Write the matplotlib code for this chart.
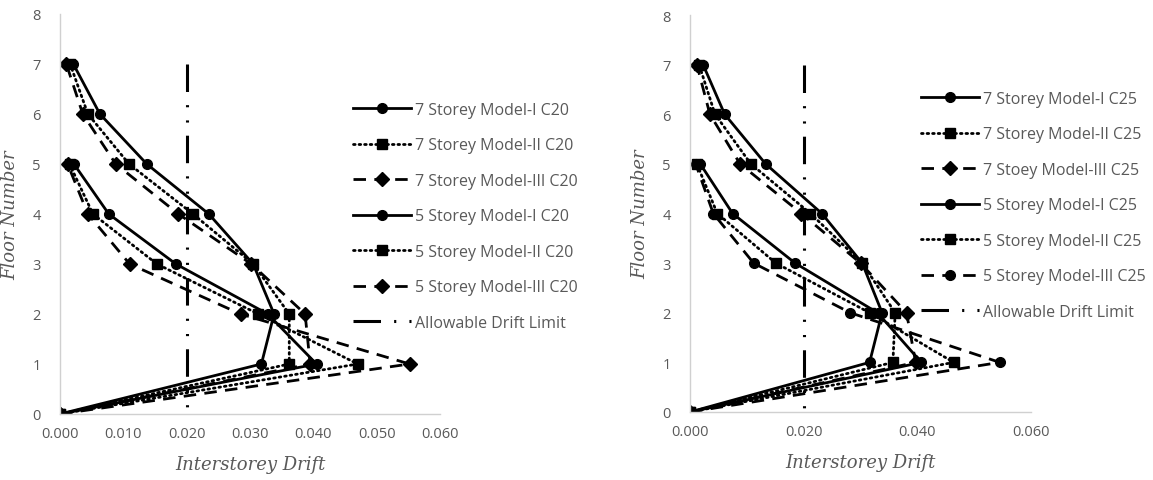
import matplotlib.pyplot as plt
from matplotlib.ticker import FormatStrFormatter

# floors
floors7 = [0, 1, 2, 3, 4, 5, 6, 7]
floors5 = [0, 1, 2, 3, 4, 5]

# C20 interstorey drift (left chart)
s7_m1_c20 = [0, 0.0318, 0.0338, 0.0305, 0.0235, 0.0137, 0.0063, 0.0021]
s7_m2_c20 = [0, 0.0362, 0.0362, 0.0305, 0.0210, 0.0109, 0.0044, 0.0016]
s7_m3_c20 = [0, 0.0395, 0.0387, 0.0302, 0.0187, 0.0088, 0.0036, 0.0010]
s5_m1_c20 = [0, 0.0405, 0.0328, 0.0183, 0.0077, 0.0022]
s5_m2_c20 = [0, 0.0470, 0.0313, 0.0153, 0.0052, 0.0015]
s5_m3_c20 = [0, 0.0552, 0.0285, 0.0110, 0.0044, 0.0012]

# C25 interstorey drift (right chart)
s7_m1_c25 = [0, 0.0316, 0.0338, 0.0303, 0.0232, 0.0133, 0.0061, 0.0023]
s7_m2_c25 = [0, 0.0357, 0.0361, 0.0303, 0.0212, 0.0107, 0.0044, 0.0016]
s7_m3_c25 = [0, 0.0397, 0.0381, 0.0300, 0.0196, 0.0088, 0.0035, 0.0012]
s5_m1_c25 = [0, 0.0407, 0.0330, 0.0185, 0.0075, 0.0018]
s5_m2_c25 = [0, 0.0464, 0.0316, 0.0151, 0.0048, 0.0012]
s5_m3_c25 = [0, 0.0545, 0.0282, 0.0112, 0.0041, 0.0010]

# allowable drift limit
limit_x = [0.02, 0.02]
limit_y = [7, 0]

labels_c20 = ['7 Storey Model-I C20', '7 Storey Model-II C20', '7 Storey Model-III C20',
              '5 Storey Model-I C20', '5 Storey Model-II C20', '5 Storey Model-III C20',
              'Allowable Drift Limit']
labels_c25 = ['7 Storey Model-I C25', '7 Storey Model-II C25', '7 Stoey Model-III C25',
              '5 Storey Model-I C25', '5 Storey Model-II C25', '5 Storey Model-III C25',
              'Allowable Drift Limit']

grey = '#595959'
plt.rcParams['font.family'] = ['Open Sans', 'DejaVu Sans']

solid = '-'
dotted = (0, (0.6, 1.4))
dashed = (0, (4.5, 3))
dashdotdot = (0, (9, 4.3, 0.7, 4.3, 0.7, 4.3))

fig = plt.figure(figsize=(11.53, 4.81), dpi=100)
ax1 = fig.add_axes([60 / 1153, 66 / 481, 380 / 1153, 400 / 481])
ax2 = fig.add_axes([690 / 1153, 68 / 481, 341 / 1153, 397 / 481])


def draw(ax, data, markers, labels, step, leg_xy):
    styles = [solid, dotted, dashed, solid, dotted, dashed]
    handles = []
    for i, (xs, ys) in enumerate(data):
        ln, = ax.plot(xs, ys, color='black', lw=2.0, linestyle=styles[i],
                      marker=markers[i], markersize=7, dash_capstyle='round'
                      if styles[i] == dotted else 'butt')
        handles.append(ln)
    ln, = ax.plot(limit_x, limit_y, color='black', lw=2.2, linestyle=dashdotdot,
                  dash_capstyle='butt')
    handles.append(ln)

    ax.set_xlim(0, 0.06)
    ax.set_ylim(0, 8)
    ax.set_xticks([i * step for i in range(int(round(0.06 / step)) + 1)])
    ax.set_yticks(range(0, 9))
    ax.xaxis.set_major_formatter(FormatStrFormatter('%.3f'))
    ax.tick_params(length=0, labelsize=10.5, colors=grey)
    ax.tick_params(axis='x', pad=9)
    ax.tick_params(axis='y', pad=14)
    for s in ['top', 'right']:
        ax.spines[s].set_visible(False)
    for s in ['left', 'bottom']:
        ax.spines[s].set_color('#d0d0d0')
        ax.spines[s].set_linewidth(1)
    ax.set_xlabel('Interstorey Drift', family='DejaVu Serif', style='italic',
                  fontsize=13, color=grey, labelpad=10)
    ax.set_ylabel('Floor Number', family='DejaVu Serif', style='italic',
                  fontsize=13, color=grey, labelpad=9)

    fig.legend(handles, labels, loc='upper left', bbox_to_anchor=leg_xy,
               frameon=False, fontsize=11.5, handlelength=3.6, handletextpad=0.3,
               labelspacing=1.22, borderpad=0, borderaxespad=0,
               labelcolor=grey)


draw(ax1,
     [(s7_m1_c20, floors7), (s7_m2_c20, floors7), (s7_m3_c20, floors7),
      (s5_m1_c20, floors5), (s5_m2_c20, floors5), (s5_m3_c20, floors5)],
     ['o', 's', 'D', 'o', 's', 'D'], labels_c20, 0.01,
     (353 / 1153, 1 - 103 / 481))

draw(ax2,
     [(s7_m1_c25, floors7), (s7_m2_c25, floors7), (s7_m3_c25, floors7),
      (s5_m1_c25, floors5), (s5_m2_c25, floors5), (s5_m3_c25, floors5)],
     ['o', 's', 'D', 'o', 's', 'o'], labels_c25, 0.02,
     (921 / 1153, 1 - 92 / 481))

plt.savefig('out.png', dpi=100)
